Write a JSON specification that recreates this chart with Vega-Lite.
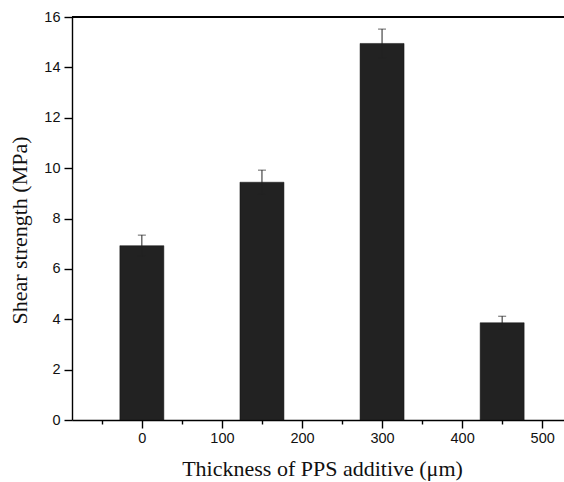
{
  "$schema": "https://vega.github.io/schema/vega-lite/v6.json",
  "autosize": "none",
  "width": 492,
  "height": 403,
  "padding": {"left": 72, "top": 17, "right": 0, "bottom": 62},
  "background": "white",
  "config": {"view": {"stroke": null}},
  "data": {"values": [
    {"thickness": 0, "strength": 6.92, "err": 0.42},
    {"thickness": 150, "strength": 9.44, "err": 0.48},
    {"thickness": 300, "strength": 14.95, "err": 0.57},
    {"thickness": 450, "strength": 3.86, "err": 0.26}
  ]},
  "encoding": {
    "x": {
      "field": "thickness", "type": "quantitative",
      "scale": {"domain": [-81, 521], "nice": false, "zero": false},
      "axis": {
        "title": "Thickness of PPS additive (μm)",
        "values": [-50, 0, 50, 100, 150, 200, 250, 300, 350, 400, 450, 500],
        "labelExpr": "datum.value % 100 === 0 ? datum.label : ''",
        "tickSize": {"expr": "datum.value % 100 === 0 ? 8 : 4"},
        "grid": false,
        "domainColor": "black", "tickColor": "black", "domainWidth": 1.4, "tickWidth": 1.4,
        "labelFont": "Liberation Sans", "labelFontSize": 14.5, "labelColor": "#111", "labelPadding": 3,
        "titleFont": "Liberation Serif", "titleFontSize": 22, "titleFontWeight": "normal", "titleColor": "#111", "titlePadding": 14,
        "titleX": 250
      }
    }
  },
  "layer": [
    {
      "mark": {"type": "bar", "size": 44, "color": "#222222", "stroke": "#111111", "strokeWidth": 0.5},
      "encoding": {
        "y": {
          "field": "strength", "type": "quantitative",
          "scale": {"domain": [0, 16], "nice": false},
          "axis": {
            "title": "Shear strength (MPa)",
            "values": [0, 1, 2, 3, 4, 5, 6, 7, 8, 9, 10, 11, 12, 13, 14, 15, 16],
            "labelExpr": "datum.value % 2 === 0 ? datum.label : ''",
            "tickSize": {"expr": "datum.value % 2 === 0 ? 8 : 4"},
            "grid": false,
            "domainColor": "black", "tickColor": "black", "domainWidth": 1.4, "tickWidth": 1.4,
            "labelFont": "Liberation Sans", "labelFontSize": 14.5, "labelColor": "#111", "labelPadding": 4,
            "titleFont": "Liberation Serif", "titleFontSize": 22, "titleFontWeight": "normal", "titleColor": "#111", "titlePadding": 12,
            "titleY": 213
          }
        }
      }
    },
    {
      "mark": {"type": "errorbar", "ticks": {"size": 8, "color": "#222"}, "rule": {"color": "#222"}},
      "encoding": {
        "y": {"field": "strength", "type": "quantitative", "title": "Shear strength (MPa)"},
        "yError": {"field": "err"}
      }
    },
    {
      "mark": {"type": "rule", "color": "black", "strokeWidth": 1.4},
      "encoding": {"y": {"datum": 16}, "x": null}
    }
  ]
}
